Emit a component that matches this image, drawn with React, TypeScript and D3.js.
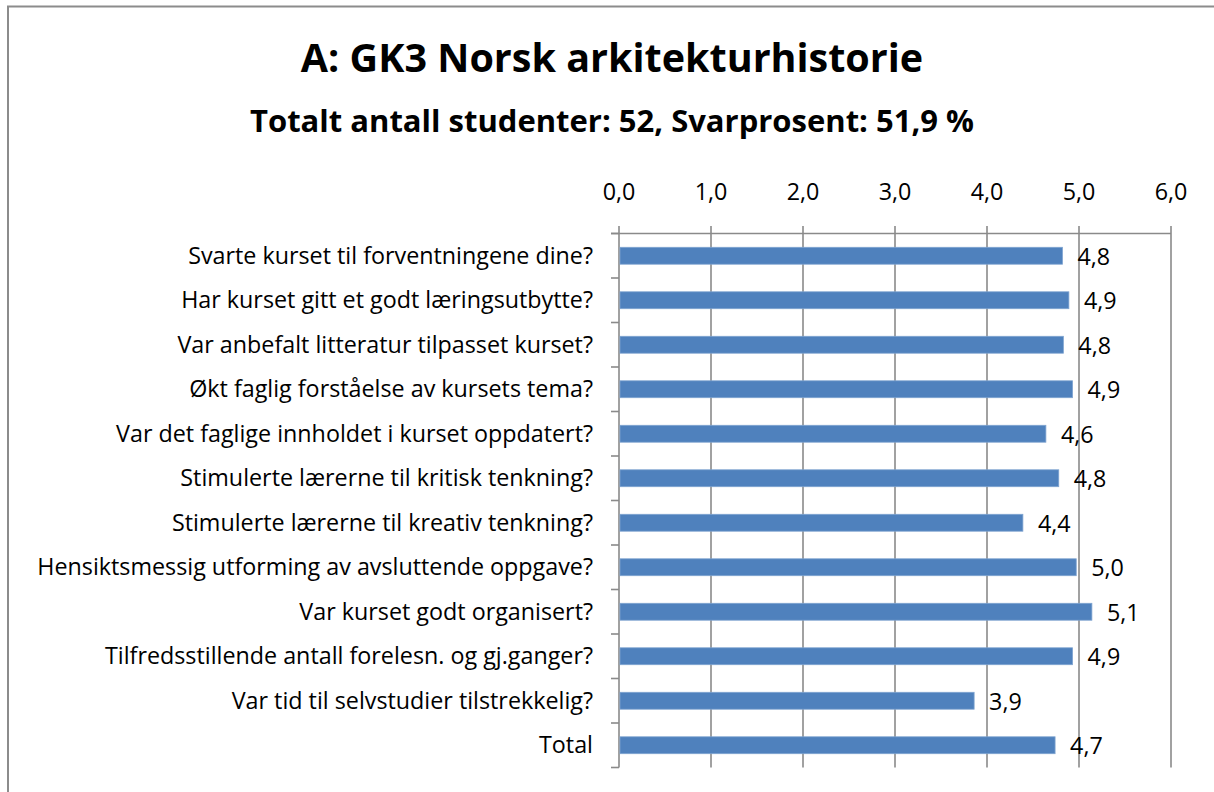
import React from "react";
import * as d3 from "d3";

const title = "A: GK3 Norsk arkitekturhistorie";
const subtitle = "Totalt antall studenter: 52, Svarprosent: 51,9 %";

const categories = [
  "Svarte kurset til forventningene dine?",
  "Har kurset gitt et godt læringsutbytte?",
  "Var anbefalt litteratur tilpasset kurset?",
  "Økt faglig forståelse av kursets tema?",
  "Var det faglige innholdet i kurset oppdatert?",
  "Stimulerte lærerne til kritisk tenkning?",
  "Stimulerte lærerne til kreativ tenkning?",
  "Hensiktsmessig utforming av avsluttende oppgave?",
  "Var kurset godt organisert?",
  "Tilfredsstillende antall forelesn. og gj.ganger?",
  "Var tid til selvstudier tilstrekkelig?",
  "Total",
];

const values = [4.82, 4.89, 4.83, 4.93, 4.64, 4.78, 4.39, 4.97, 5.14, 4.93, 3.86, 4.74];

const tickValues = [0, 1, 2, 3, 4, 5, 6];

const W = 1214;
const H = 792;
const FONT = "'Open Sans', 'Noto Sans', sans-serif";
const GRID = "#8a8a8a";
const LABEL_SIZE = 23.3;

const fmt = (v: number) => d3.format(".1f")(v).replace(".", ",");

export default function App() {
  const x = d3.scaleLinear().domain([0, 6]).range([619, 1171]);
  const y = d3
    .scaleBand<string>()
    .domain(categories)
    .range([233.5, 767.5])
    .paddingInner(0.62)
    .paddingOuter(0.31);
  const step = y.step();
  const x0 = x(0);

  return (
    <svg
      width={W}
      height={H}
      style={{ position: "absolute", left: 0, top: 0, background: "#fff" }}
      fontFamily={FONT}
    >
      <rect x={0} y={0} width={W} height={H} fill="#fff" />
      <rect x={8} y={6.5} width={W + 20} height={H + 20} fill="none" stroke="#8c8c8c" strokeWidth={2} />

      <text x={612} y={72} textAnchor="middle" fontSize={39.5} fontWeight={700} fill="#000">
        {title}
      </text>
      <text x={612} y={132} textAnchor="middle" fontSize={31} fontWeight={700} fill="#000">
        {subtitle}
      </text>

      {/* vertical gridlines */}
      {tickValues.map((t) => (
        <line
          key={"g" + t}
          x1={x(t)}
          x2={x(t)}
          y1={226}
          y2={767.5}
          stroke={GRID}
          strokeWidth={1.6}
        />
      ))}
      {/* top axis line */}
      <line x1={x0 - 8} x2={x(6)} y1={233.5} y2={233.5} stroke={GRID} strokeWidth={1.6} />
      {/* left axis ticks at band boundaries */}
      {d3.range(categories.length + 1).map((i) => {
        const yy = 233.5 + i * step;
        return (
          <line key={"t" + i} x1={x0 - 8} x2={x0} y1={yy} y2={yy} stroke={GRID} strokeWidth={1.6} />
        );
      })}

      {/* tick labels */}
      {tickValues.map((t) => (
        <text key={"l" + t} x={x(t)} y={200} textAnchor="middle" fontSize={LABEL_SIZE} fill="#000">
          {fmt(t)}
        </text>
      ))}

      {/* bars */}
      {categories.map((c, i) => (
        <rect
          key={"b" + i}
          x={x0 + 1}
          y={y(c)}
          width={x(values[i]) - x0 - 1}
          height={y.bandwidth()}
          fill="#4f81bd"
          stroke="#7ea3d0"
          strokeWidth={0.8}
        />
      ))}

      {/* category labels */}
      {categories.map((c, i) => (
        <text
          key={"c" + i}
          x={x0 - 26}
          y={(y(c) as number) + y.bandwidth() / 2 + 8}
          textAnchor="end"
          fontSize={LABEL_SIZE}
          fill="#000"
        >
          {c}
        </text>
      ))}

      {/* value labels */}
      {categories.map((c, i) => (
        <text
          key={"v" + i}
          x={x(values[i]) + 15}
          y={(y(c) as number) + y.bandwidth() / 2 + 9}
          textAnchor="start"
          fontSize={LABEL_SIZE}
          fill="#000"
        >
          {fmt(values[i])}
        </text>
      ))}
    </svg>
  );
}
